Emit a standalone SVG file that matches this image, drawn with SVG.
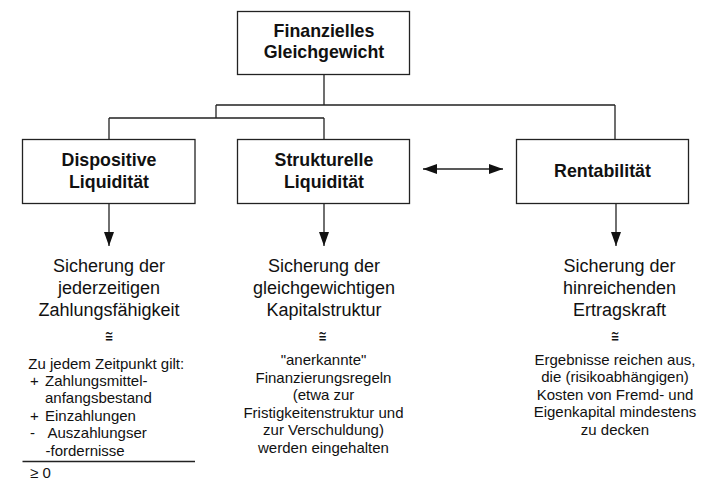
<svg xmlns="http://www.w3.org/2000/svg" width="721" height="483" viewBox="0 0 721 483">
<style>
.box{fill:#fff;stroke:#222;stroke-width:1.3}
.ln{fill:none;stroke:#222;stroke-width:1.3}
.b{font-family:"Liberation Sans",Arial,sans-serif;font-weight:bold;font-size:17.8px;fill:#111;text-anchor:middle}
.h{font-family:"Liberation Sans",Arial,sans-serif;font-size:18px;fill:#111;text-anchor:middle}
.s{font-family:"Liberation Sans",Arial,sans-serif;font-size:15px;fill:#111;text-anchor:middle}
.sl{font-family:"Liberation Sans",Arial,sans-serif;font-size:15px;fill:#111}
.eq{font-family:"DejaVu Sans","Liberation Sans",sans-serif;font-size:17px;fill:#111;text-anchor:middle}
</style>
<defs>
<marker id="ah" viewBox="0 0 14 10" refX="14" refY="5" markerWidth="14" markerHeight="10" markerUnits="userSpaceOnUse" orient="auto-start-reverse">
<path d="M0,0 L14,5 L0,10 Z" fill="#111"/>
</marker>
</defs>
<g id="connectors">
<path class="ln" d="M324,74.5 V105 M216,105 H615 M216,105 V118 M109,118 H324 M109,118 V139.5 M324,118 V139.5 M615,105 V139.5"/>
<line class="ln" x1="109" y1="203.5" x2="109" y2="246" marker-end="url(#ah)"/>
<line class="ln" x1="324" y1="203.5" x2="324" y2="246" marker-end="url(#ah)"/>
<line class="ln" x1="616" y1="203.5" x2="616" y2="246" marker-end="url(#ah)"/>
<line class="ln" x1="423" y1="169" x2="503" y2="169" marker-start="url(#ah)" marker-end="url(#ah)"/>
</g>
<g id="finanzielles">
<rect class="box" x="237.5" y="11.5" width="172" height="63"/>
<text class="b" x="324" y="36.7">Finanzielles</text>
<text class="b" x="324" y="58.3">Gleichgewicht</text>
</g>
<g id="dispositive">
<rect class="box" x="22.5" y="139.5" width="172.5" height="64"/>
<text class="b" x="109" y="166">Dispositive</text>
<text class="b" x="109" y="187.7">Liquidität</text>
</g>
<g id="strukturelle">
<rect class="box" x="237.5" y="139.5" width="172" height="64"/>
<text class="b" x="324" y="166">Strukturelle</text>
<text class="b" x="324" y="187.7">Liquidität</text>
</g>
<g id="rentabilitaet">
<rect class="box" x="516.5" y="139.5" width="172" height="64"/>
<text class="b" x="602.5" y="176.7">Rentabilität</text>
</g>
<g id="text-dispositive">
<text class="h" x="109" y="272.3">Sicherung der</text>
<text class="h" x="109" y="294.3">jederzeitigen</text>
<text class="h" x="109" y="316.3">Zahlungsfähigkeit</text>
<text class="eq" transform="translate(109,342) scale(0.6,1)">≅</text>
<text class="sl" x="28.3" y="368.5">Zu jedem Zeitpunkt gilt:</text>
<text class="sl" x="30" y="386">+</text>
<text class="sl" x="45" y="386">Zahlungsmittel-</text>
<text class="sl" x="45" y="403">anfangsbestand</text>
<text class="sl" x="30" y="420.5">+</text>
<text class="sl" x="45" y="420.5">Einzahlungen</text>
<text class="sl" x="30" y="438">-</text>
<text class="sl" x="47.5" y="438">Auszahlungser</text>
<text class="sl" x="45.5" y="455.5">-fordernisse</text>
<line class="ln" x1="22.5" y1="461.5" x2="195" y2="461.5"/>
<text class="sl" x="30" y="478">≥ 0</text>
</g>
<g id="text-strukturelle">
<text class="h" x="324" y="272.3">Sicherung der</text>
<text class="h" x="324" y="294.3">gleichgewichtigen</text>
<text class="h" x="324" y="316.3">Kapitalstruktur</text>
<text class="eq" transform="translate(322.5,342) scale(0.6,1)">≅</text>
<text class="s" x="323.5" y="365">"anerkannte"</text>
<text class="s" x="323.5" y="382.6">Finanzierungsregeln</text>
<text class="s" x="323.5" y="400.2">(etwa zur</text>
<text class="s" x="323.5" y="417.8">Fristigkeitenstruktur und</text>
<text class="s" x="323.5" y="435.4">zur Verschuldung)</text>
<text class="s" x="323.5" y="453">werden eingehalten</text>
</g>
<g id="text-rentabilitaet">
<text class="h" x="619.5" y="272.3">Sicherung der</text>
<text class="h" x="619.5" y="294.3">hinreichenden</text>
<text class="h" x="619.5" y="316.3">Ertragskraft</text>
<text class="eq" transform="translate(615,342) scale(0.6,1)">≅</text>
<text class="s" x="615" y="364.5">Ergebnisse reichen aus,</text>
<text class="s" x="615" y="382">die (risikoabhängigen)</text>
<text class="s" x="615" y="399.6">Kosten von Fremd- und</text>
<text class="s" x="615" y="417.2">Eigenkapital mindestens</text>
<text class="s" x="615" y="434.8">zu decken</text>
</g>
</svg>
